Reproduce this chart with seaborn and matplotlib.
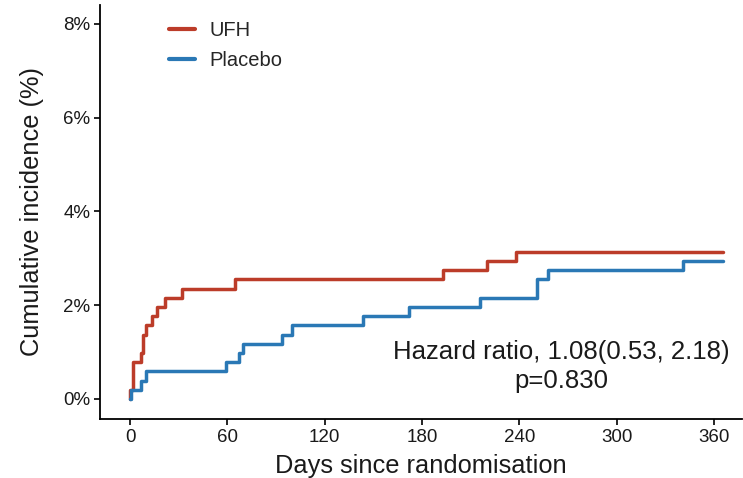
import matplotlib
matplotlib.use("Agg")
import matplotlib.pyplot as plt
import seaborn as sns
import pandas as pd

# Cumulative incidence (%) step data
ufh_days = [0, 0, 2.0, 6.6, 7.8, 9.7, 13.7, 16.5, 21.6, 32.2, 64.7, 193.0, 220.0, 237.8, 365.6]
ufh_inc = [0.0, 0.196, 0.78, 0.98, 1.37, 1.57, 1.76, 1.96, 2.16, 2.35, 2.55, 2.75, 2.94, 3.14, 3.14]

placebo_days = [0, 0.5, 6.6, 9.7, 59.0, 67.4, 69.9, 93.9, 99.9, 143.8, 172.0, 215.5, 251.0, 258.0, 341.0, 365.6]
placebo_inc = [0.0, 0.196, 0.39, 0.59, 0.78, 0.98, 1.18, 1.37, 1.57, 1.76, 1.96, 2.16, 2.55, 2.75, 2.94, 2.94]

groups = ["UFH", "Placebo"]
colors = ["#BC3C29", "#2A78B5"]
x_ticks = [0, 60, 120, 180, 240, 300, 360]
y_ticks = [0, 2, 4, 6, 8]
y_tick_labels = ["0%", "2%", "4%", "6%", "8%"]
annot_lines = ["Hazard ratio, 1.08(0.53, 2.18)", "p=0.830"]

df = pd.concat([
    pd.DataFrame({"day": ufh_days, "inc": ufh_inc, "group": "UFH"}),
    pd.DataFrame({"day": placebo_days, "inc": placebo_inc, "group": "Placebo"}),
], ignore_index=True)

sns.set_style("white")
plt.rcParams["font.family"] = ["Liberation Sans", "DejaVu Sans"]

fig = plt.figure(figsize=(7.43, 4.78), dpi=100)
ax = fig.add_axes([100 / 743, 59 / 478, 642 / 743, 414 / 478])

sns.lineplot(data=df, x="day", y="inc", hue="group", hue_order=groups,
             palette=colors, drawstyle="steps-post", estimator=None,
             sort=False, linewidth=2.5, ax=ax)

ax.set_xlim(-18.5, 377.3)
ax.set_ylim(-0.43, 8.4)
ax.set_xticks(x_ticks)
ax.set_xticklabels([str(t) for t in x_ticks])
ax.set_yticks(y_ticks)
ax.set_yticklabels(y_tick_labels)
ax.tick_params(axis="both", which="major", labelsize=13.5, length=4, width=1.2,
               color="black", labelcolor="#1a1a1a", direction="out", pad=3,
               bottom=True, left=True)
for s in ["top", "right"]:
    ax.spines[s].set_visible(False)
for s in ["left", "bottom"]:
    ax.spines[s].set_color("black")
    ax.spines[s].set_linewidth(1.3)

ax.set_xlabel("Days since randomisation", fontsize=18.3, color="#1a1a1a", labelpad=6)
ax.set_ylabel("Cumulative incidence (%)", fontsize=18.3, color="#1a1a1a", labelpad=14)

ax.text(266, 1.0, annot_lines[0], fontsize=18.5, ha="center", va="center", color="#1a1a1a")
ax.text(266, 0.38, annot_lines[1], fontsize=18.5, ha="center", va="center", color="#1a1a1a")

leg = ax.legend(loc="upper left", bbox_to_anchor=(0.079, 1.005), frameon=False,
                fontsize=14.5, handlelength=1.3, handletextpad=0.7, labelspacing=0.55)
for line in leg.get_lines():
    line.set_linewidth(3)

fig.savefig("out.png", dpi=100)
